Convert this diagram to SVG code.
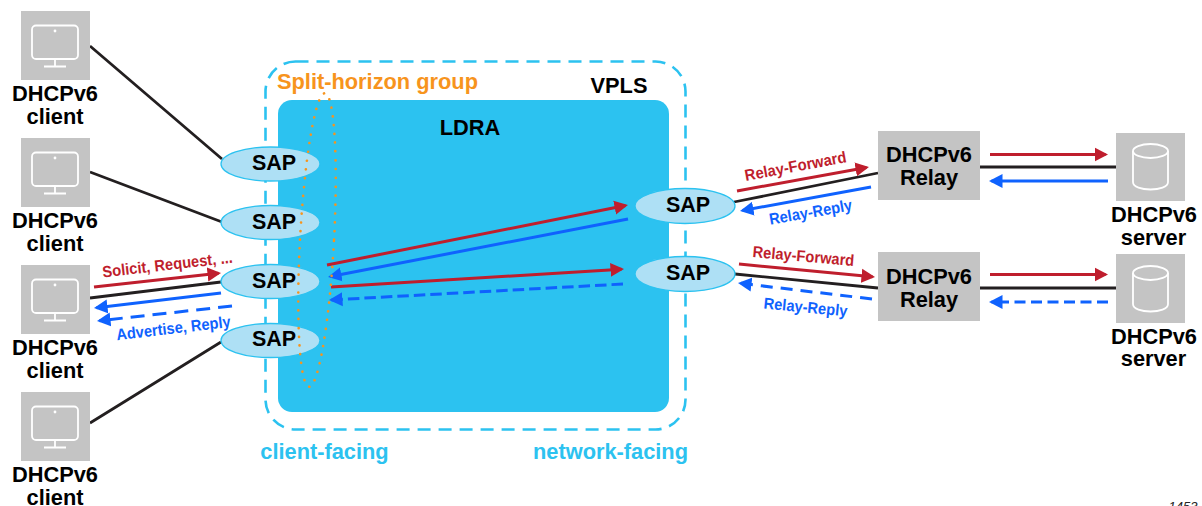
<svg xmlns="http://www.w3.org/2000/svg" width="1202" height="506" viewBox="0 0 1202 506">
<style>
text{font-family:"Liberation Sans",Arial,sans-serif;text-anchor:middle}
.lb{font-size:21.800px;font-weight:700;fill:#000}
.sap{font-size:21.500px;font-weight:700;fill:#000}
.box{fill:#c4c4c4}
.ic{fill:none;stroke:#fff;stroke-width:1.800}
.ell{fill:#aee0f5;stroke:#2cc2f0;stroke-width:1.300}
.k{stroke:#231f20;stroke-width:2.800;fill:none}
.r{stroke:#bf1e2d;stroke-width:3;fill:none;marker-end:url(#mr)}
.b{stroke:#0f62fe;stroke-width:3;fill:none;marker-end:url(#mb)}
.rt{font-size:16px;font-weight:700;fill:#bf1e2d}
.bt{font-size:16px;font-weight:700;fill:#0f62fe}
.cy{font-size:21.800px;font-weight:700;fill:#2cc2f0}
</style>
<defs>
<marker id="mr" markerUnits="userSpaceOnUse" markerWidth="15" markerHeight="15" refX="11" refY="7.500" orient="auto"><path d="M0 0.500L13.500 7.500L0 14.500z" fill="#bf1e2d"/></marker>
<marker id="mb" markerUnits="userSpaceOnUse" markerWidth="15" markerHeight="15" refX="11" refY="7.500" orient="auto"><path d="M0 0.500L13.500 7.500L0 14.500z" fill="#0f62fe"/></marker>
<g id="mon"><rect x="-23" y="-23.500" width="46" height="33.500" rx="4" class="ic"/><path d="M0 10V17M-11 17.500H11" class="ic"/><circle cx="0" cy="-18" r="1.400" fill="#fff"/></g>
<g id="cyl"><path d="M-17.500 -15V16C-17.500 26 17.500 26 17.500 16V-15" class="ic"/><ellipse cx="0" cy="-15" rx="17.500" ry="7" class="ic"/></g>
</defs>
<g id="vpls">
<rect x="265.500" y="61.500" width="420" height="368" rx="30" fill="#fff" stroke="#2cc2f0" stroke-width="2.600" stroke-dasharray="13 8"/>
<rect x="278" y="100" width="391" height="312" rx="14" fill="#2cc2f0"/>
<text x="619" y="93" class="lb">VPLS</text>
<text x="470" y="135" class="lb">LDRA</text>
<text x="377.500" y="89" style="font-size:21.800px;font-weight:700;fill:#f7941d">Split-horizon group</text>
<text x="324.500" y="459" class="cy">client-facing</text>
<text x="610.500" y="459" class="cy">network-facing</text>
</g>
<g id="connectors">
<path class="k" d="M90 46L222 159M90 172L222 222M90 298L221 282M90 423L221 342M734 202L878 173M735 274L878 288M979 167H1116M979 288H1116"/>
<path class="r" d="M94 287L218.500 273.300"/>
<path class="b" d="M221 293L96.500 307.700"/>
<path class="b" stroke-dasharray="14 8" d="M232 306L99.500 320.700"/>
<path class="r" d="M327 265L625.500 205.500"/>
<path class="b" d="M628 219L330.500 276.500"/>
<path class="r" d="M331 287L621.500 269.200"/>
<path class="b" stroke-dasharray="11.500 5" d="M623 284L331.500 299.900"/>
<path class="r" d="M737 191L866.500 167.500"/>
<path class="b" d="M871 187L742.500 210.500"/>
<path class="r" d="M739 264L872.500 276.800"/>
<path class="b" stroke-dasharray="12 8" d="M872 299L740.500 283.300"/>
<path class="r" d="M990 154.500H1105.500"/>
<path class="b" d="M1108 181H991.500"/>
<path class="r" d="M990 274.500H1105.500"/>
<path class="b" stroke-dasharray="11 5.500" d="M1108 302H991.500"/>
</g>
<g id="sap1"><ellipse class="ell" cx="270.500" cy="164" rx="49.500" ry="17"/><text class="sap" x="274" y="170">SAP</text></g>
<g id="sap2"><ellipse class="ell" cx="270.500" cy="222.500" rx="49.500" ry="17"/><text class="sap" x="274" y="229">SAP</text></g>
<g id="sap3"><ellipse class="ell" cx="270.500" cy="281.500" rx="49.500" ry="17"/><text class="sap" x="274" y="288">SAP</text></g>
<g id="sap4"><ellipse class="ell" cx="270.500" cy="340.500" rx="49.500" ry="17"/><text class="sap" x="274" y="346">SAP</text></g>
<g id="sap5"><ellipse class="ell" cx="685" cy="206" rx="50" ry="17.500"/><text class="sap" x="688" y="212">SAP</text></g>
<g id="sap6"><ellipse class="ell" cx="685" cy="274" rx="50" ry="17.500"/><text class="sap" x="688" y="280">SAP</text></g>
<g id="split-horizon">
<ellipse cx="317" cy="240" rx="17" ry="147" fill="none" stroke="#f7941d" stroke-width="2.600" stroke-dasharray="0.100 8.700" stroke-linecap="round" transform="rotate(3.100 317 240)"/>
</g>
<g id="client1"><rect class="box" x="21" y="11" width="69" height="69"/><use href="#mon" x="55" y="49"/><text class="lb" x="55" y="101">DHCPv6</text><text class="lb" x="55" y="124">client</text></g>
<g id="client2"><rect class="box" x="21" y="138" width="69" height="69"/><use href="#mon" x="55" y="176"/><text class="lb" x="55" y="228">DHCPv6</text><text class="lb" x="55" y="251">client</text></g>
<g id="client3"><rect class="box" x="21" y="265" width="69" height="69"/><use href="#mon" x="55" y="303"/><text class="lb" x="55" y="355">DHCPv6</text><text class="lb" x="55" y="378">client</text></g>
<g id="client4"><rect class="box" x="21" y="392" width="69" height="69"/><use href="#mon" x="55" y="430"/><text class="lb" x="55" y="482">DHCPv6</text><text class="lb" x="55" y="505">client</text></g>
<g id="relay1"><rect class="box" x="878" y="131" width="102" height="69"/><text class="lb" x="929" y="162">DHCPv6</text><text class="lb" x="929" y="185">Relay</text></g>
<g id="relay2"><rect class="box" x="878" y="252" width="102" height="69"/><text class="lb" x="929" y="284">DHCPv6</text><text class="lb" x="929" y="307">Relay</text></g>
<g id="server1"><rect class="box" x="1116" y="133" width="69" height="68"/><use href="#cyl" x="1150.500" y="166"/><text class="lb" x="1154" y="222">DHCPv6</text><text class="lb" x="1153.500" y="245">server</text></g>
<g id="server2"><rect class="box" x="1116" y="254" width="69" height="69"/><use href="#cyl" x="1150.500" y="288"/><text class="lb" x="1154" y="343.500">DHCPv6</text><text class="lb" x="1153.500" y="366">server</text></g>
<g id="labels">
<text class="rt" textLength="131" lengthAdjust="spacingAndGlyphs" transform="translate(168 270) rotate(-6.500)">Solicit, Request, ...</text>
<text class="bt" textLength="115" lengthAdjust="spacingAndGlyphs" transform="translate(174 333.500) rotate(-6.700)">Advertise, Reply</text>
<text class="rt" textLength="103" lengthAdjust="spacingAndGlyphs" transform="translate(796.500 171.500) rotate(-10.500)">Relay-Forward</text>
<text class="bt" textLength="84" lengthAdjust="spacingAndGlyphs" transform="translate(811.500 217.500) rotate(-10)">Relay-Reply</text>
<text class="rt" textLength="102" lengthAdjust="spacingAndGlyphs" transform="translate(803 261.500) rotate(5)">Relay-Forward</text>
<text class="bt" textLength="84" lengthAdjust="spacingAndGlyphs" transform="translate(805 312.500) rotate(5.500)">Relay-Reply</text>
<text x="1183" y="511" style="font-size:13px;font-style:italic;fill:#222">1453</text>
</g>
</svg>
